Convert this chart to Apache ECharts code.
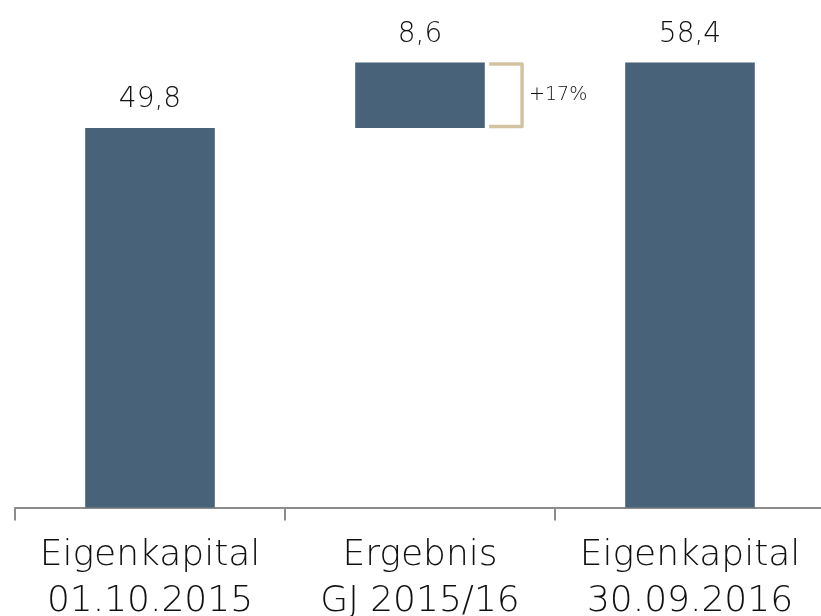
<!DOCTYPE html>
<html>
<head>
<meta charset="utf-8">
<script src="https://cdn.jsdelivr.net/npm/echarts@6/dist/echarts.min.js"></script>
<style>html,body{margin:0;padding:0;background:#fff}#c{width:821px;height:616px}</style>
</head>
<body>
<div id="c"></div>
<script>
var categories = ['Eigenkapital\n01.10.2015', 'Ergebnis\nGJ 2015/16', 'Eigenkapital\n30.09.2016'];
var baseValues = [0, 49.8, 0];
var barValues = [49.8, 8.6, 58.4];
var bracketData = [[1, 49.8, 58.4, '+17%']];

var FONT = '"DejaVu Sans"';
var chart = echarts.init(document.getElementById('c'));
function fmt(v) { return String(v).replace('.', ','); }
chart.setOption({
  animation: false,
  grid: { left: 15, right: -4, top: 0, bottom: 108.5, containLabel: false, outerBoundsMode: 'none' },
  xAxis: {
    type: 'category',
    data: categories,
    axisLine: { lineStyle: { color: '#8c8c8c', width: 2 } },
    axisTick: { show: true, interval: 0, length: 13, lineStyle: { color: '#8c8c8c', width: 2 } },
    axisLabel: { interval: 0, hideOverlap: false, color: '#111', fontFamily: FONT, fontWeight: 200, fontSize: 36, lineHeight: 46, margin: 25 }
  },
  yAxis: { type: 'value', min: 0, max: 66.6, show: false, splitLine: { show: false } },
  series: [
    { type: 'bar', stack: 'w', data: baseValues, itemStyle: { color: 'transparent' }, barWidth: '48%', silent: true },
    { type: 'bar', stack: 'w', data: barValues, barWidth: '48%',
      itemStyle: { color: '#476279' },
      label: { show: true, position: 'top', distance: 14, color: '#111', fontFamily: FONT, fontWeight: 200, fontSize: 28,
               formatter: function (p) { return fmt(p.value); } } },
    { type: 'custom', data: bracketData, silent: true, z: 5,
      renderItem: function (params, api) {
        var lo = api.coord([api.value(0), api.value(1)]);
        var hi = api.coord([api.value(0), api.value(2)]);
        var w = api.size([1, 0])[0];
        var x0 = lo[0] + w * 0.256, x1 = lo[0] + w * 0.378;
        return { type: 'group', children: [
          { type: 'polyline', shape: { points: [[x0, hi[1] + 1.5], [x1, hi[1] + 1.5], [x1, lo[1] - 1.5], [x0, lo[1] - 1.5]] },
            style: { stroke: '#d4c3a1', lineWidth: 3.5, fill: null, lineJoin: 'round' } },
          { type: 'text', style: { text: api.value(3), x: x1 + 7, y: (lo[1] + hi[1]) / 2, align: 'left', verticalAlign: 'middle',
            fill: '#111', font: '200 19px ' + FONT } }
        ] };
      } }
  ]
});
</script>
</body>
</html>
